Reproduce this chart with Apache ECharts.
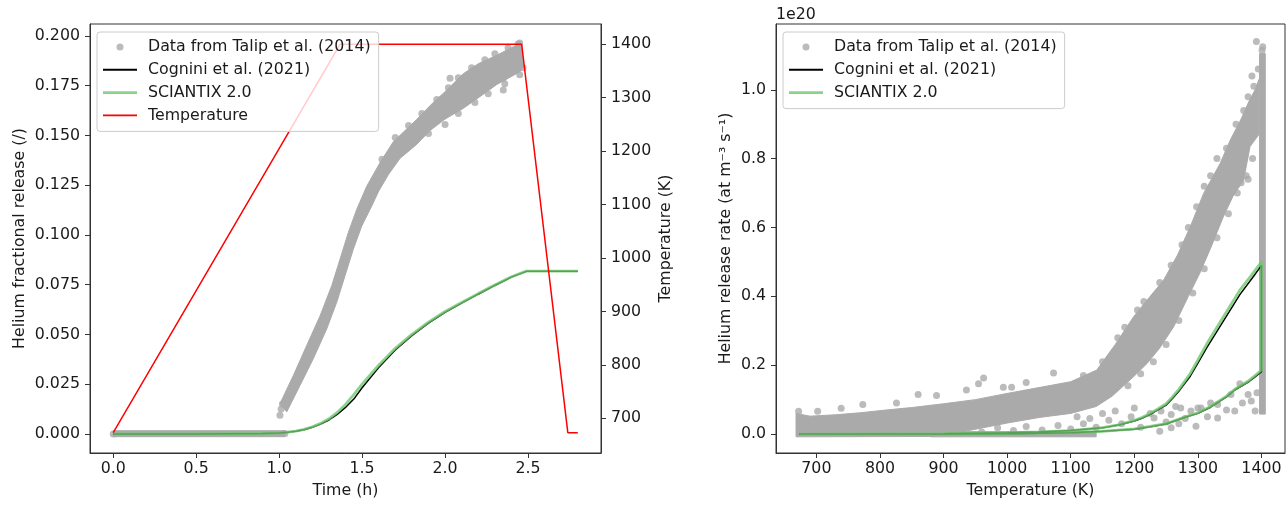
<!DOCTYPE html>
<html><head><meta charset="utf-8">
<script src="https://cdn.jsdelivr.net/npm/echarts@6/dist/echarts.min.js"></script>
<style>html,body{margin:0;padding:0;background:#fff}#c{width:1287px;height:505px}</style>
</head><body><div id="c"></div>
<script>
// ---------- tick labels ----------
const timeTicks = [0, 0.5, 1.0, 1.5, 2.0, 2.5];
const fracTicks = [0, 0.025, 0.05, 0.075, 0.1, 0.125, 0.15, 0.175, 0.2];
const tempAxisTicks = [700, 800, 900, 1000, 1100, 1200, 1300, 1400];
const rateTempTicks = [700, 800, 900, 1000, 1100, 1200, 1300, 1400];
const rateTicks = [0, 0.2, 0.4, 0.6, 0.8, 1.0];

// ---------- left panel: temperature history ----------
const tempTime = [0, 1.367, 2.462, 2.74, 2.80];
const tempK = [673, 1400, 1400, 673, 673];

// ---------- left panel: model fractional release ----------
const modelTime =    [0, 0.5, 0.9, 1.0, 1.05, 1.1, 1.15, 1.2, 1.25, 1.3, 1.35, 1.4, 1.45, 1.5, 1.6, 1.7, 1.8, 1.9, 2.0, 2.1, 2.2, 2.3, 2.4, 2.49, 2.8];
const sciantixFrac = [0, 0, 0.0002, 0.0005, 0.0009, 0.0014, 0.0023, 0.0036, 0.0053, 0.0076, 0.0108, 0.0148, 0.0197, 0.025, 0.0345, 0.0430, 0.0500, 0.0562, 0.0615, 0.0660, 0.0705, 0.0748, 0.0790, 0.0818, 0.0818];
const cogniniFrac =  [0, 0, 0.0002, 0.0005, 0.0008, 0.0013, 0.0021, 0.0033, 0.0049, 0.0070, 0.0098, 0.0133, 0.0175, 0.0232, 0.0334, 0.0422, 0.0494, 0.0557, 0.0611, 0.0657, 0.0702, 0.0746, 0.0788, 0.0817, 0.0817];

// ---------- left panel: Talip data (dense band outlines + individual points) ----------
const talipFlatBand = [[0, -0.0014], [1.035, -0.0014], [1.035, 0.0016], [0, 0.0016]];
const talipRiseBand = [
  [1.005,0.0152],[1.086,0.0294],[1.166,0.0444],[1.247,0.0594],[1.317,0.0745],[1.367,0.0878],[1.417,0.1012],
  [1.468,0.1129],[1.528,0.1245],[1.608,0.1363],[1.688,0.1468],[1.829,0.158],[1.91,0.165],[2.0,0.172],[2.11,0.181],
  [2.2,0.186],[2.312,0.1903],[2.432,0.1954],[2.462,0.1956],
  [2.472,0.1846],[2.451,0.182],[2.312,0.1756],[2.21,0.1695],[2.11,0.1636],[2.0,0.1582],[1.91,0.1525],
  [1.829,0.1455],[1.729,0.1385],[1.66,0.1305],[1.60,0.1220],[1.558,0.1145],[1.498,0.1045],[1.447,0.0928],[1.397,0.0795],
  [1.347,0.0661],[1.287,0.0528],[1.206,0.0378],[1.126,0.0244],[1.046,0.0111]
];
const talipFracPoints = [
  [0,0],[1.035,0.0002],[1.005,0.0094],[1.012,0.0125],[1.02,0.015],
  [1.62,0.138],[1.70,0.149],[1.78,0.155],[1.86,0.161],[1.95,0.168],
  [2.02,0.174],[2.08,0.179],[2.16,0.184],[2.24,0.188],[2.30,0.191],[2.38,0.194],
  [2.44,0.196],[2.45,0.1965],
  [1.90,0.151],[2.00,0.1555],[2.08,0.161],[2.18,0.1665],[2.26,0.171],[2.36,0.176],[2.45,0.1805],[2.47,0.184],
  [2.03,0.1787],[2.351,0.1728],[2.351,0.1787]
];

// ---------- right panel: model release rate (units of 1e20 at m^-3 s^-1) ----------
const rateModelTemp = [673, 800, 900, 1000, 1050, 1100, 1150, 1175, 1200, 1212, 1225, 1237, 1250, 1260, 1270, 1278, 1288, 1300, 1314, 1340, 1366, 1385, 1400,
                       1400, 1390, 1380, 1358, 1345, 1320, 1300, 1280, 1250, 1225, 1200, 1150, 1100, 1000, 900, 673];
const sciantixRate = [0, 0.0005, 0.001, 0.004, 0.006, 0.010, 0.019, 0.027, 0.040, 0.048, 0.060, 0.073, 0.088, 0.108, 0.130, 0.150, 0.176, 0.215, 0.262, 0.340, 0.418, 0.463, 0.500,
                      0.186, 0.170, 0.155, 0.130, 0.110, 0.080, 0.062, 0.050, 0.030, 0.022, 0.015, 0.008, 0.004, 0.001, 0, 0];
const cogniniRate =  [0, 0.0005, 0.001, 0.004, 0.006, 0.010, 0.018, 0.026, 0.038, 0.046, 0.057, 0.070, 0.084, 0.103, 0.124, 0.144, 0.168, 0.206, 0.251, 0.328, 0.405, 0.452, 0.490,
                      0.181, 0.166, 0.152, 0.128, 0.108, 0.078, 0.060, 0.049, 0.029, 0.021, 0.014, 0.008, 0.004, 0.001, 0, 0];

// ---------- right panel: Talip data ----------
const talipRateBand = [
  [668,0.06],[690,0.052],[730,0.056],[770,0.062],[810,0.07],[850,0.077],[900,0.088],[950,0.1],[1000,0.118],
  [1050,0.135],[1100,0.152],[1141,0.186],[1170,0.26],[1199,0.341],[1225,0.4],[1246,0.447],[1268,0.52],
  [1288,0.602],[1309,0.699],[1335,0.786],[1351,0.854],[1368,0.915],[1380,0.965],[1390,1.0],[1396,1.03],
  [1396,0.87],[1382,0.835],[1372,0.738],[1355,0.69],[1340,0.631],[1320,0.54],[1303,0.467],[1285,0.4],
  [1262,0.312],[1240,0.25],[1220,0.205],[1199,0.167],[1180,0.135],[1165,0.11],[1140,0.08],[1100,0.06],
  [1050,0.048],[1000,0.032],[950,0.014],[910,0.0],[880,-0.007],[668,-0.008]
];
const talipRateCoolBand = [[880,-0.008],[1140,-0.008],[1140,0.007],[880,0.007]];
const talipRateHoldBand = [[1397,0.058],[1406,0.058],[1406,1.105],[1397,1.105]];
const talipRatePoints = [
  [672,0.066],[702,0.066],[739,0.075],[773,0.086],[826,0.09],[860,0.115],[889,0.112],[936,0.128],[955,0.146],
  [963,0.163],[994,0.136],[1007,0.136],[1030,0.15],[1073,0.177],[1120,0.17],[1150,0.21],[1174,0.28],
  [1185,0.31],[1205,0.36],[1215,0.385],[1240,0.44],[1258,0.49],[1275,0.55],[1285,0.6],[1298,0.66],[1310,0.72],
  [1320,0.75],[1330,0.8],[1345,0.83],[1360,0.9],[1372,0.94],[1379,0.98],[1385,1.04],[1392,1.14],[1395,1.06],
  [1388,1.01],[1402,1.125],[1401,1.115],
  [1190,0.14],[1210,0.175],[1230,0.21],[1250,0.26],[1270,0.33],[1292,0.41],[1310,0.48],[1330,0.57],[1348,0.64],
  [1362,0.7],[1376,0.75],[1368,0.73],[1379,0.74],[1386,0.8],
  [900,0.012],[930,0.02],[960,0.006],[985,0.018],[1010,0.01],[1030,0.022],[1055,0.012],[1080,0.025],[1100,0.015],
  [1120,0.03],[1140,0.02],[1160,0.04],[1170,0.067],[1180,0.03],[1195,0.05],[1200,0.076],[1210,0.02],[1225,0.06],
  [1231,0.047],[1242,0.067],[1250,0.035],[1258,0.057],[1258,0.018],[1265,0.08],[1273,0.076],[1280,0.045],
  [1289,0.067],[1297,0.023],[1300,0.076],[1305,0.076],[1315,0.05],[1320,0.09],[1331,0.086],[1331,0.047],
  [1345,0.07],[1352,0.115],[1358,0.067],[1366,0.146],[1370,0.09],[1379,0.115],[1384,0.096],[1390,0.067],
  [1393,0.12],[1240,0.008],[1270,0.03],[1150,0.06],[1110,0.05],[1130,0.045]
];

// ---------- build chart ----------
const GRAY = '#aaaaaa', TXT = '#1a1a1a', AX = '#333333', FS = 15.8;
const GREEN = 'rgba(110,200,110,0.8)';
const zip = (a, b) => a.map((v, i) => [v, b[i]]);

function bandSeries(xi, yi, pts) {
  return {
    type: 'custom', name: 'band', xAxisIndex: xi, yAxisIndex: yi, silent: true,
    data: [pts[0]],
    renderItem: (params, api) => ({
      type: 'polygon',
      shape: { points: pts.map(p => api.coord(p)) },
      style: { fill: GRAY, stroke: GRAY, lineWidth: 1 }
    })
  };
}
function mk(o, ticks, fmt, margin) {
  return Object.assign({
    type: 'value',
    axisLine: { show: true, onZero: false, lineStyle: { color: AX, width: 1 } },
    axisTick: { show: true, length: 5, lineStyle: { color: AX }, customValues: ticks },
    axisLabel: { customValues: ticks, formatter: fmt, fontSize: FS, color: TXT, margin, fontFamily: 'DejaVu Sans' },
    splitLine: { show: false },
    nameLocation: 'middle',
    nameTextStyle: { fontSize: FS, color: TXT, fontFamily: 'DejaVu Sans' }
  }, o);
}

const legendBase = {
  orient: 'vertical', backgroundColor: 'rgba(255,255,255,0.8)', borderColor: '#cccccc', borderWidth: 1,
  borderRadius: 3, itemWidth: 34, itemHeight: 7, itemGap: 6.8, symbolKeepAspect: true,
  textStyle: { fontSize: FS, color: TXT, fontFamily: 'DejaVu Sans', padding: [0, 0, 0, 6] },
  selectedMode: false
};
const legTalip = { name: 'Data from Talip et al. (2014)', icon: 'circle' };
const legCognini = { name: 'Cognini et al. (2021)', icon: 'path://M0,0H34V2H0Z' };
const legSciantix = { name: 'SCIANTIX 2.0', icon: 'path://M0,0H34V2.6H0Z' };
const legTemp = { name: 'Temperature', icon: 'path://M0,0H34V1.6H0Z' };

const option = {
  animation: false,
  backgroundColor: '#ffffff',
  textStyle: { fontFamily: 'DejaVu Sans' },
  grid: [
    { left: 90, top: 24, width: 511, height: 429, show: true, borderColor: AX, borderWidth: 1, backgroundColor: 'transparent' },
    { left: 776, top: 24, width: 509, height: 429, show: true, borderColor: AX, borderWidth: 1, backgroundColor: 'transparent' }
  ],
  xAxis: [
    mk({ gridIndex: 0, min: -0.14, max: 2.94, name: 'Time (h)', nameGap: 30 }, timeTicks, v => v.toFixed(1), 8),
    mk({ gridIndex: 1, min: 636.5, max: 1437, name: 'Temperature (K)', nameGap: 30 }, rateTempTicks, v => String(v), 8)
  ],
  yAxis: [
    mk({ gridIndex: 0, min: -0.0096, max: 0.206, name: 'Helium fractional release (/)', nameGap: 62 }, fracTicks, v => v.toFixed(3), 10),
    mk({ gridIndex: 0, position: 'right', min: 635, max: 1438, name: 'Temperature (K)', nameGap: 57, nameRotate: 90 }, tempAxisTicks, v => String(v), 10),
    mk({ gridIndex: 1, min: -0.055, max: 1.191, name: 'Helium release rate (at m⁻³ s⁻¹)', nameGap: 42 }, rateTicks, v => v.toFixed(1), 10)
  ],
  legend: [
    Object.assign({}, legendBase, { left: 97, top: 32, padding: [7, 8, 8, 6],
      data: [legTalip, legCognini, legSciantix, legTemp] }),
    Object.assign({}, legendBase, { left: 783, top: 32, padding: [7, 8, 8, 6],
      data: [legTalip, legCognini, legSciantix] })
  ],
  graphic: [
    { type: 'text', left: 776, top: 7, style: { text: '1e20', fontSize: FS, fill: TXT, fontFamily: 'DejaVu Sans' } }
  ],
  series: [
    bandSeries(0, 0, talipFlatBand),
    bandSeries(0, 0, talipRiseBand),
    { type: 'scatter', name: 'Data from Talip et al. (2014)', xAxisIndex: 0, yAxisIndex: 0, symbolSize: 7,
      itemStyle: { color: GRAY }, data: talipFracPoints },
    { type: 'line', name: 'Cognini et al. (2021)', xAxisIndex: 0, yAxisIndex: 0, symbol: 'none', showSymbol: false,
      lineStyle: { color: '#000000', width: 1.5 }, itemStyle: { color: '#000000' }, data: zip(modelTime, cogniniFrac) },
    { type: 'line', name: 'SCIANTIX 2.0', xAxisIndex: 0, yAxisIndex: 0, symbol: 'none', showSymbol: false,
      lineStyle: { color: GREEN, width: 2.8 }, itemStyle: { color: GREEN }, data: zip(modelTime, sciantixFrac) },
    { type: 'line', name: 'Temperature', xAxisIndex: 0, yAxisIndex: 1, symbol: 'none', showSymbol: false,
      lineStyle: { color: '#ff0000', width: 1.5 }, itemStyle: { color: '#ff0000' }, data: zip(tempTime, tempK) },

    bandSeries(1, 2, talipRateBand),
    bandSeries(1, 2, talipRateCoolBand),
    bandSeries(1, 2, talipRateHoldBand),
    { type: 'scatter', name: 'Data from Talip et al. (2014)', xAxisIndex: 1, yAxisIndex: 2, symbolSize: 7,
      itemStyle: { color: GRAY }, data: talipRatePoints },
    { type: 'line', name: 'Cognini et al. (2021)', xAxisIndex: 1, yAxisIndex: 2, symbol: 'none', showSymbol: false,
      lineStyle: { color: '#000000', width: 1.5 }, itemStyle: { color: '#000000' }, data: zip(rateModelTemp, cogniniRate) },
    { type: 'line', name: 'SCIANTIX 2.0', xAxisIndex: 1, yAxisIndex: 2, symbol: 'none', showSymbol: false,
      lineStyle: { color: GREEN, width: 2.8 }, itemStyle: { color: GREEN }, data: zip(rateModelTemp, sciantixRate) }
  ]
};
const chart = echarts.init(document.getElementById('c'), null, { renderer: 'canvas' });
chart.setOption(option);
</script></body></html>
